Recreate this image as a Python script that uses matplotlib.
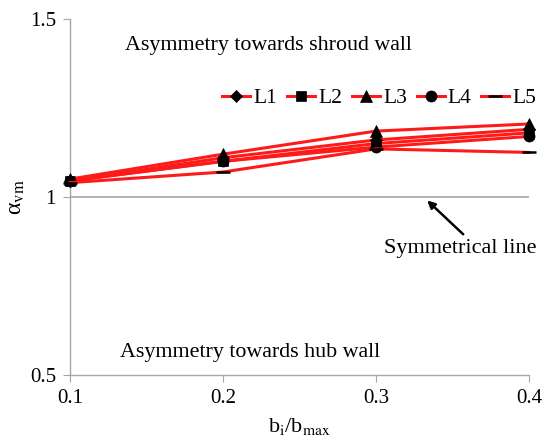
import matplotlib
matplotlib.use("Agg")
import matplotlib.pyplot as plt

plt.rcParams['font.family'] = ['Liberation Serif', 'DejaVu Serif']
plt.rcParams['mathtext.fontset'] = 'stix'

x = [0.1, 0.2, 0.3, 0.4]
L1 = [1.045, 1.11, 1.16, 1.19]
L2 = [1.045, 1.10, 1.15, 1.18]
L3 = [1.05, 1.12, 1.185, 1.205]
L4 = [1.045, 1.10, 1.14, 1.17]
L5 = [1.04, 1.07, 1.135, 1.125]
series = [("L1", L1, "D", 6), ("L2", L2, "s", 7), ("L3", L3, "^", 8),
          ("L4", L4, "o", 8), ("L5", L5, "_", 10)]

fig = plt.figure(figsize=(5.42, 4.42), dpi=100)
ax = fig.add_axes([0.129, 0.152, 0.847, 0.805])

ax.axhline(1.0, color='#a6a6a6', lw=1.2, zorder=1)
for name, ys, m, ms in series:
    ax.plot(x, ys, color='#ff1a1a', lw=2.2, marker=m, ms=ms,
            mfc='black', mec='black', mew=1.8 if m == '_' else 0.5,
            label=name, zorder=3, clip_on=False)

ax.set_xlim(0.1, 0.4)
ax.set_ylim(0.5, 1.5)
ax.set_xticks([0.1, 0.2, 0.3, 0.4])
ax.set_xticklabels(['0.1', '0.2', '0.3', '0.4'])
ax.set_yticks([0.5, 1.0, 1.5])
ax.set_yticklabels(['0.5', '1', '1.5'])
ax.tick_params(direction='out', length=5, color='#a6a6a6', labelsize=15, pad=5)
for s in ['top', 'right']:
    ax.spines[s].set_visible(False)
for s in ['left', 'bottom']:
    ax.spines[s].set_color('#a6a6a6')
    ax.spines[s].set_linewidth(1.0)

ax.set_xlabel(r'b$_\mathrm{i}$/b$_\mathrm{max}$', fontsize=16, labelpad=6)
ax.set_ylabel(r'α$_\mathrm{vm}$', fontsize=17, labelpad=2)

ax.text(0.136, 1.426, 'Asymmetry towards shroud wall', fontsize=15.8, va='center')
ax.text(0.133, 0.562, 'Asymmetry towards hub wall', fontsize=15.8, va='center')
ax.text(0.3055, 0.855, 'Symmetrical line', fontsize=16, ha='left', va='center')
ax.annotate('', xy=(0.3335, 0.99), xytext=(0.357, 0.895),
            arrowprops=dict(arrowstyle='-|>', color='black', lw=1.8,
                            shrinkA=0, shrinkB=0, mutation_scale=11))

leg = ax.legend(loc='upper right', bbox_to_anchor=(1.035, 0.83), ncol=5,
                frameon=False, fontsize=15.5, handlelength=1.3,
                handletextpad=0.15, columnspacing=0.45, borderaxespad=0)

fig.savefig('out.png', dpi=100)
